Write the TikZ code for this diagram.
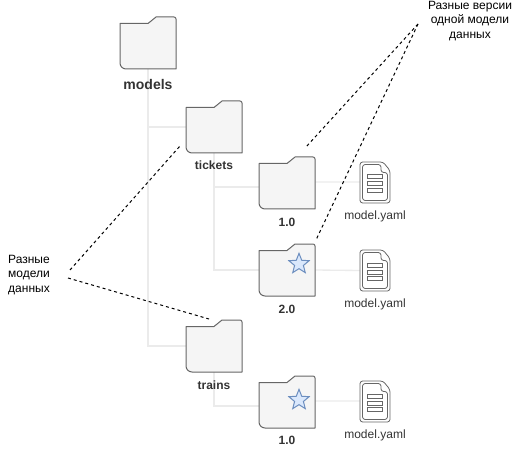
\documentclass[tikz,border=0pt]{standalone}
\usepackage{fontspec}
\setmainfont{Liberation Sans}
\usetikzlibrary{shapes.geometric}

\tikzset{
	folderbox/.style={inner sep=0pt,minimum width=42pt,minimum height=39pt},
	docbox/.style={inner sep=0pt,minimum width=22.5pt,minimum height=30.75pt},
	folderline/.style={draw={rgb,255:red,102;green,102;blue,102},fill={rgb,255:red,245;green,245;blue,245},line width=0.75pt,line join=round},
	docline/.style={draw={rgb,255:red,102;green,102;blue,102},line width=0.6pt,rounded corners=2pt},
	barline/.style={draw={rgb,255:red,102;green,102;blue,102},line width=0.75pt},
	treeline/.style={draw={rgb,255:red,235;green,235;blue,235},line width=1pt},
	noteline/.style={dash pattern={on 2.25pt off 2.25pt},line width=0.75pt},
	starmark/.style={star,star points=5,star point ratio=2.3,inner sep=0pt,minimum size=16pt,draw={rgb,255:red,108;green,142;blue,191},fill={rgb,255:red,218;green,232;blue,252},line width=0.75pt},
	boldlabel/.style={inner sep=0.75pt,font=\fontsize{9}{10.8}\selectfont\bfseries,text={rgb,255:red,51;green,51;blue,51}},
	filelabel/.style={inner sep=0.75pt,font=\fontsize{9}{10.8}\selectfont,text={rgb,255:red,51;green,51;blue,51}},
	notelabel/.style={inner sep=0.75pt,align=center,font=\fontsize{9}{10.9}\selectfont}
}

\newcommand{\foldershape}[1]{
	\draw [folderline] (#1.center) ++(-28,-19.5) -- ++(28,0) -- ++(8,-6.5) -- ++(18,0)
		.. controls +(1.1,0) and +(0,-1.1) .. ++(2,2) -- ++(0,50) -- ++(-50,0)
		.. controls +(-3.3,0) and +(0,3.3) .. ++(-6,-6) -- cycle;
}
\newcommand{\docshape}[1]{
	\draw [docline] (#1.center) ++(-15,-20.5) -- ++(23,0) -- ++(7,8.5) -- ++(0,32.5) -- ++(-30,0) -- cycle;
	\draw [docline] (#1.center) ++(-12.5,-18) -- ++(18.5,0) -- ++(0,8) -- ++(6.5,0) -- ++(0,28) -- ++(-25,0) -- cycle;
	\draw [barline] (#1.center) +(-7.5,-7.5) rectangle +(7.5,-3.5);
	\draw [barline] (#1.center) +(-7.5,-0.5) rectangle +(7.5,3.5);
	\draw [barline] (#1.center) +(-7.5,6) rectangle +(7.5,10);
}

\begin{document}
\begin{tikzpicture}[x=0.75pt,y=0.75pt,yscale=-1,xscale=1]
	\useasboundingbox (0,0) rectangle (532,449);

	%Shape: Folder nodes
	\node [folderbox] (models) at (148,43) {};
	\node [folderbox] (tickets) at (214,127) {};
	\node [folderbox] (trains) at (214,346) {};
	\node [folderbox] (verone) at (287,183) {};
	\node [folderbox] (vertwo) at (287,270) {};
	\node [folderbox] (trainver) at (287,402) {};
	\node [docbox] (docone) at (375,182.5) {};
	\node [docbox] (doctwo) at (375,270.5) {};
	\node [docbox] (docthree) at (375,401.5) {};

	%Shape: Tree lines
	\draw [treeline] (models.south) |- (tickets.west);
	\draw [treeline] (models.south) |- (trains.west);
	\draw [treeline] (tickets.south) |- ([yshift=3pt]verone.west);
	\draw [treeline] (tickets.south) |- (vertwo.west);
	\draw [treeline] (trains.south) |- ([yshift=3pt]trainver.west);
	\draw [treeline] ([yshift=-0.75pt]verone.east) -- ([yshift=-0.4pt]docone.west);
	\draw [treeline] (vertwo.east) -- (doctwo.west);
	\draw [treeline] ([yshift=-0.75pt]trainver.east) -- ([yshift=-0.4pt]docthree.west);

	%Shape: Folders and files
	\foldershape{models}
	\foldershape{tickets}
	\foldershape{trains}
	\foldershape{verone}
	\foldershape{vertwo}
	\foldershape{trainver}
	\docshape{docone}
	\docshape{doctwo}
	\docshape{docthree}

	%Shape: Stars
	\node [starmark] (startwo) at (299,264) {};
	\node [starmark] (starthree) at (299,400) {};

	% Text Node
	\node [boldlabel,font=\fontsize{10.5}{12}\selectfont\bfseries] (modelstext) at (148,84) {models};
	\node [boldlabel] (ticketstext) at (214,165) {tickets};
	\node [boldlabel] (trainstext) at (214,385) {trains};
	\node [boldlabel] (veronetext) at (287,222) {1.0};
	\node [boldlabel] (vertwotext) at (287,309) {2.0};
	\node [boldlabel] (trainvertext) at (287,440) {1.0};
	\node [filelabel] (doconetext) at (375,216) {model.yaml};
	\node [filelabel] (doctwotext) at (375,304) {model.yaml};
	\node [filelabel] (docthreetext) at (375,435) {model.yaml};
	\node [notelabel] (versionsnote) at (470,21) {Разные версии\\одной модели\\данных};
	\node [notelabel] (modelsnote) at (29,275) {Разные\\модели\\данных};

	%Shape: Note lines
	\coordinate (versionsend) at (418,24);
	\coordinate (modelsendup) at (70,270);
	\coordinate (modelsenddown) at (68,278);
	\coordinate (veroneend) at (306,147);
	\coordinate (vertwoend) at (316,240);
	\coordinate (ticketsend) at (180,146);
	\coordinate (trainsend) at (209,319);
	\draw [noteline] (versionsend) -- (veroneend);
	\draw [noteline] (versionsend) -- (vertwoend);
	\draw [noteline] (modelsendup) -- (ticketsend);
	\draw [noteline] (modelsenddown) -- (trainsend);
\end{tikzpicture}
\end{document}
